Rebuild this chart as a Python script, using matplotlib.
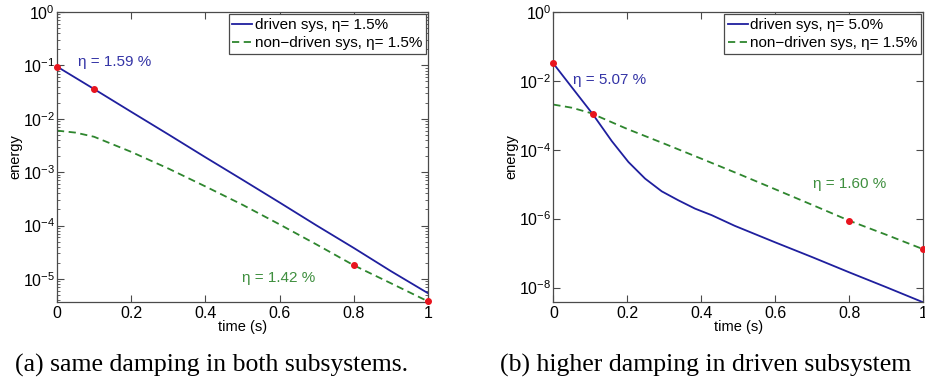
import numpy as np
import matplotlib
matplotlib.use("Agg")
import matplotlib.pyplot as plt
from matplotlib.ticker import LogLocator, NullLocator, LogFormatterSciNotation

plt.rcParams['font.family'] = ['Liberation Sans', 'DejaVu Sans']
plt.rcParams['mathtext.default'] = 'regular'

# (a) same damping in both subsystems
t_a = [0, 0.1, 0.2, 0.3, 0.4, 0.5, 0.6, 0.7, 0.8, 0.9, 1.0]
driven_a = [9.5e-2, 3.6e-2, 1.35e-2, 5.1e-3, 1.9e-3, 7.2e-4, 2.7e-4, 1.0e-4, 3.8e-5, 1.4e-5, 5.4e-6]
t_a2 = [0, 0.05, 0.1, 0.2, 0.3, 0.4, 0.5, 0.6, 0.7, 0.8, 0.9, 1.0]
nondriven_a = [6.0e-3, 5.5e-3, 4.6e-3, 2.4e-3, 1.17e-3, 5.4e-4, 2.45e-4, 1.05e-4, 4.4e-5, 1.8e-5, 8.3e-6, 3.8e-6]
dots_a_t = [0, 0.1, 0.8, 1.0]
dots_a_e = [9.5e-2, 3.55e-2, 1.8e-5, 3.8e-6]

# (b) higher damping in driven subsystem
t_b = [0, 0.05, 0.106, 0.158, 0.203, 0.248, 0.293, 0.338, 0.383, 0.428, 0.49,
       0.6, 0.7, 0.8, 0.9, 1.0]
driven_b = [3.2e-2, 6.5e-3, 1.1e-3, 1.78e-4, 4.4e-5, 1.45e-5, 6.2e-6, 3.4e-6, 1.95e-6, 1.26e-6, 6.2e-7,
            2.04e-7, 7.6e-8, 2.75e-8, 1.02e-8, 3.7e-9]
t_b2 = [0, 0.05, 0.1, 0.2, 0.3, 0.4, 0.5, 0.6, 0.7, 0.8, 0.9, 1.0]
nondriven_b = [2.05e-3, 1.66e-3, 1.17e-3, 4.0e-4, 1.5e-4, 5.5e-5, 2.0e-5, 7.1e-6, 2.5e-6, 8.7e-7, 3.4e-7, 1.29e-7]
dots_b_t = [0, 0.106, 0.8, 1.0]
dots_b_e = [3.2e-2, 1.1e-3, 8.7e-7, 1.29e-7]

xticks = [0, 0.2, 0.4, 0.6, 0.8, 1]
xtick_labels = ['0', '0.2', '0.4', '0.6', '0.8', '1']

blue = '#1f1f9e'
green = '#2e862e'
blue_txt = '#3434a6'
green_txt = '#3f8f3f'
red = '#e8141e'
edge = '#4a4a4a'

fig = plt.figure(figsize=(9.25, 3.89), dpi=100)
ax1 = fig.add_axes([0.0616, 0.2237, 0.4011, 0.7455])
ax2 = fig.add_axes([0.5982, 0.2237, 0.4000, 0.7455])


def style(ax, yticks, minor):
    ax.set_yscale('log')
    ax.set_xlim(0, 1)
    ax.set_xticks(xticks)
    ax.set_xticklabels(xtick_labels)
    ax.set_yticks(yticks)
    ax.yaxis.set_major_formatter(LogFormatterSciNotation())
    if minor:
        ax.yaxis.set_minor_locator(LogLocator(base=10, subs=np.arange(2, 10)))
    else:
        ax.yaxis.set_minor_locator(NullLocator())
    ax.yaxis.set_minor_formatter(plt.NullFormatter())
    ax.tick_params(which='both', direction='in', top=True, right=True, color=edge)
    ax.tick_params(which='major', length=5, width=0.8, labelsize=11.5)
    ax.tick_params(which='minor', length=2.5, width=0.6)
    ax.tick_params(axis='x', pad=3)
    ax.tick_params(axis='y', pad=1.5)
    for s in ax.spines.values():
        s.set_color(edge)
        s.set_linewidth(0.9)
    ax.set_xlabel('time (s)', fontsize=10.5, labelpad=-1)
    ax.set_ylabel('energy', fontsize=10.5, labelpad=0.5)


# panel (a)
ax1.plot(t_a, driven_a, '-', color=blue, lw=1.3, label='driven sys, η= 1.5%')
ax1.plot(t_a2, nondriven_a, '--', color=green, lw=1.3, dashes=(4, 2.5),
         label='non\u2212driven sys, η= 1.5%')
ax1.plot(dots_a_t, dots_a_e, 'o', color=red, ms=4, clip_on=False, zorder=5)
ax1.set_ylim(3.7e-6, 1)
style(ax1, [1e0, 1e-1, 1e-2, 1e-3, 1e-4, 1e-5], True)
ax1.text(0.057, 10 ** -0.93, 'η = 1.59 %', color=blue_txt, fontsize=11, va='center')
ax1.text(0.50, 10 ** -4.99, 'η = 1.42 %', color=green_txt, fontsize=11, va='center')

# panel (b)
ax2.plot(t_b, driven_b, '-', color=blue, lw=1.3, label='driven sys, η= 5.0%')
ax2.plot(t_b2, nondriven_b, '--', color=green, lw=1.3, dashes=(4, 2.5),
         label='non\u2212driven sys, η= 1.5%')
ax2.plot(dots_b_t, dots_b_e, 'o', color=red, ms=4, clip_on=False, zorder=5)
ax2.set_ylim(3.8e-9, 1)
style(ax2, [1e0, 1e-2, 1e-4, 1e-6, 1e-8], False)
ax2.text(0.054, 10 ** -1.97, 'η = 5.07 %', color=blue_txt, fontsize=11, va='center')
ax2.text(0.703, 10 ** -5.0, 'η = 1.60 %', color=green_txt, fontsize=11, va='center')

for ax in (ax1, ax2):
    leg = ax.legend(loc='upper right', bbox_to_anchor=(1.0, 1.0), fontsize=11,
                    fancybox=False, framealpha=1, edgecolor=edge, borderaxespad=0.15,
                    handlelength=1.3, handletextpad=0.15, labelspacing=0.25,
                    borderpad=0.25)
    leg.get_frame().set_linewidth(0.9)

fig.text(15 / 925, 1 - 372 / 389, '(a) same damping in both subsystems.',
         family='Liberation Serif', fontsize=18.5, va='baseline', ha='left')
fig.text(500 / 925, 1 - 372 / 389, '(b) higher damping in driven subsystem',
         family='Liberation Serif', fontsize=18.5, va='baseline', ha='left')

fig.savefig('out.png', dpi=100)
